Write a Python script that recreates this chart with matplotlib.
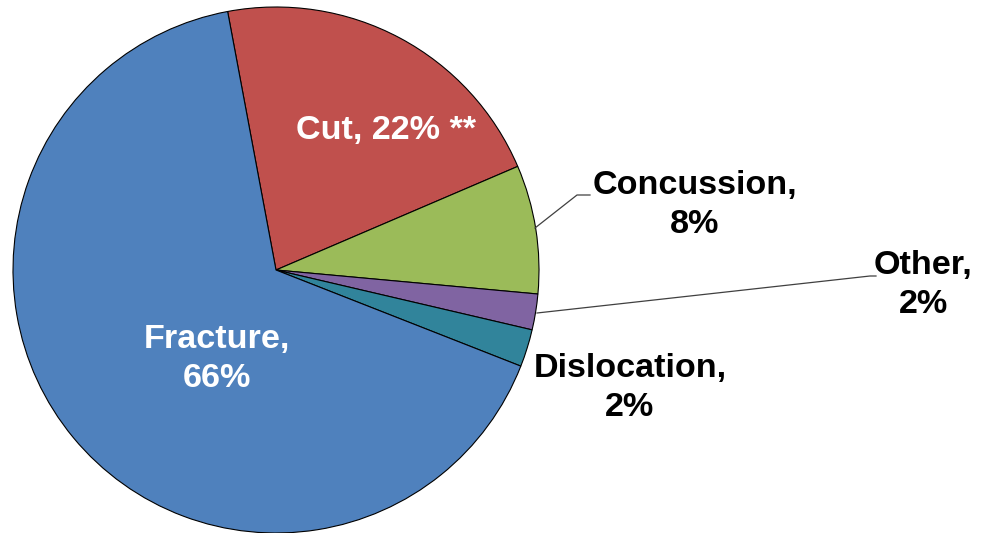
import matplotlib
matplotlib.use("Agg")
import matplotlib.pyplot as plt

categories = ["Cut", "Concussion", "Other", "Dislocation", "Fracture"]
values = [21.5, 7.9, 2.2, 2.3, 66.1]
display_pct = [22, 8, 2, 2, 66]
suffix = [" **", "", "", "", ""]
colors = ["#C0504D", "#9BBB59", "#8064A2", "#31849B", "#4F81BD"]

W, H = 986, 533
fig = plt.figure(figsize=(W / 100, H / 100), dpi=100)
ax = fig.add_axes([0, 0, 1, 1])

cx, cy, r = 276, H - 270, 263
ax.pie(values, colors=colors, startangle=100.6, counterclock=False,
       center=(cx, cy), radius=r,
       wedgeprops=dict(edgecolor="black", linewidth=0.8), frame=True)
ax.set_xlim(0, W)
ax.set_ylim(0, H)
ax.set_aspect("equal")
ax.axis("off")

font = dict(family=["Liberation Sans", "DejaVu Sans"], fontsize=24.6,
            fontweight="bold", ha="center", va="center", linespacing=1.3)

def lab(i, two_lines=True):
    sep = "\n" if two_lines else " "
    return f"{categories[i]},{sep}{display_pct[i]}%{suffix[i]}"

# label positions (pixel coords from top)
pos = {
    0: (386, 130, "white", False),
    1: (695, 205, "black", True),
    2: (923, 285, "black", True),
    3: (630, 388, "black", True),
    4: (217, 359, "white", True),
}
for i, (x, y, c, two) in pos.items():
    ax.text(x, H - y, lab(i, two), color=c, **font)

# leader lines
ax.plot([535, 577, 590], [H - 228, H - 195, H - 195], color="#404040", lw=0.9)
ax.plot([537, 870, 876], [H - 313, H - 276, H - 276], color="#404040", lw=0.9)

fig.savefig("out.png", dpi=100)
